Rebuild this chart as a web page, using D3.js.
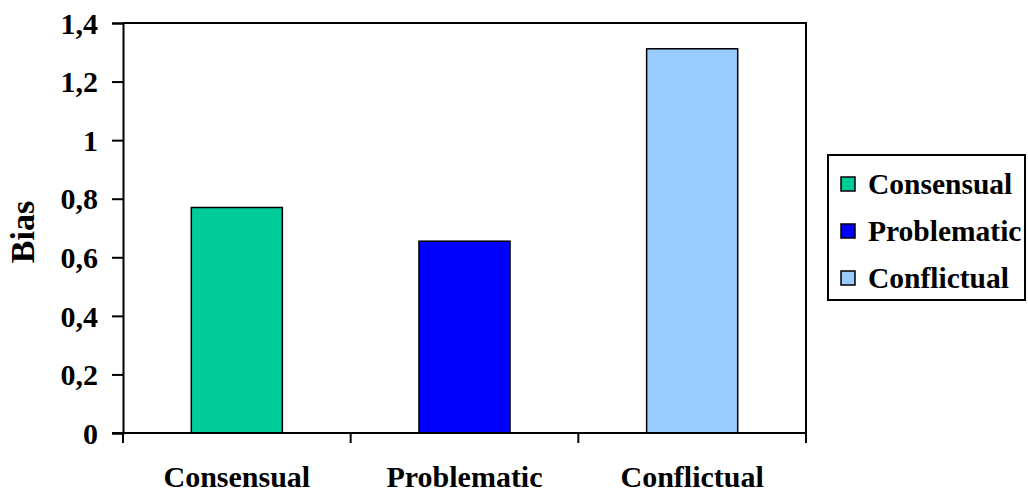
<!DOCTYPE html>
<html>
<head>
<meta charset="utf-8">
<script src="https://d3js.org/d3.v7.min.js"></script>
<style>
  html, body { margin: 0; padding: 0; background: #fff; }
  svg text { font-family: "Liberation Serif", "Times New Roman", serif; font-weight: bold; fill: #000; }
</style>
</head>
<body>
<svg id="chart" width="1028" height="494"></svg>
<script>
// Bias by group type
const categories = ["Consensual", "Problematic", "Conflictual"];
const biasValues = [0.77, 0.655, 1.312];
const barColors = ["#00CC99", "#0000FF", "#99CCFF"];
const yTicks = [0, 0.2, 0.4, 0.6, 0.8, 1, 1.2, 1.4];
const yTickLabels = ["0", "0,2", "0,4", "0,6", "0,8", "1", "1,2", "1,4"];

const svg = d3.select("#chart");
const plot = { left: 123, right: 806, top: 23, bottom: 433 };

const x = d3.scaleBand()
  .domain(categories)
  .range([plot.left, plot.right])
  .paddingInner(0.6)
  .paddingOuter(0.3);

const y = d3.scaleLinear()
  .domain([0, 1.4])
  .range([plot.bottom, plot.top]);

// plot frame: top and right edges
svg.append("path")
  .attr("d", `M${plot.left},${plot.top}H${plot.right}V${plot.bottom}`)
  .attr("fill", "none")
  .attr("stroke", "#000")
  .attr("stroke-width", 2);

// bars
svg.append("g").selectAll("rect")
  .data(categories)
  .join("rect")
  .attr("x", d => x(d))
  .attr("y", (d, i) => y(biasValues[i]))
  .attr("width", x.bandwidth())
  .attr("height", (d, i) => y(0) - y(biasValues[i]))
  .attr("fill", (d, i) => barColors[i])
  .attr("stroke", "#000")
  .attr("stroke-width", 1.5);

// y axis
const yAxis = d3.axisLeft(y)
  .tickValues(yTicks)
  .tickFormat((d, i) => yTickLabels[i])
  .tickSize(11)
  .tickPadding(14);
const gy = svg.append("g")
  .attr("transform", `translate(${plot.left},0)`)
  .call(yAxis);
gy.select(".domain").attr("stroke-width", 2);
gy.selectAll(".tick line").attr("stroke-width", 2);
gy.selectAll(".tick text")
  .attr("font-size", 30)
  .attr("dy", "0.34em");

// x axis: ticks sit between categories
const step = x.step();
const xBoundaries = d3.range(categories.length + 1).map(i => plot.left + i * step);
svg.append("line")
  .attr("x1", plot.left - 11).attr("x2", plot.right)
  .attr("y1", plot.bottom).attr("y2", plot.bottom)
  .attr("stroke", "#000").attr("stroke-width", 2);
svg.append("g").selectAll("line")
  .data(xBoundaries)
  .join("line")
  .attr("x1", d => d).attr("x2", d => d)
  .attr("y1", plot.bottom).attr("y2", plot.bottom + 10)
  .attr("stroke", "#000").attr("stroke-width", 2);
svg.append("g").selectAll("text")
  .data(categories)
  .join("text")
  .attr("x", d => x(d) + x.bandwidth() / 2)
  .attr("y", 487)
  .attr("text-anchor", "middle")
  .attr("font-size", 30)
  .text(d => d);

// y axis title
svg.append("text")
  .attr("transform", `translate(34,232) rotate(-90)`)
  .attr("text-anchor", "middle")
  .attr("font-size", 34)
  .text("Bias");

// legend
const legend = svg.append("g");
legend.append("rect")
  .attr("x", 828).attr("y", 155)
  .attr("width", 197).attr("height", 145)
  .attr("fill", "#fff")
  .attr("stroke", "#000")
  .attr("stroke-width", 2);
const rows = legend.selectAll("g.row")
  .data(categories)
  .join("g")
  .attr("class", "row")
  .attr("transform", (d, i) => `translate(841,${184 + i * 47})`);
rows.append("rect")
  .attr("x", 0).attr("y", -7)
  .attr("width", 14).attr("height", 14)
  .attr("fill", (d, i) => barColors[i])
  .attr("stroke", "#000")
  .attr("stroke-width", 1.5);
rows.append("text")
  .attr("x", 27).attr("y", 0)
  .attr("dy", "0.33em")
  .attr("font-size", 29.5)
  .text(d => d);
</script>
</body>
</html>
